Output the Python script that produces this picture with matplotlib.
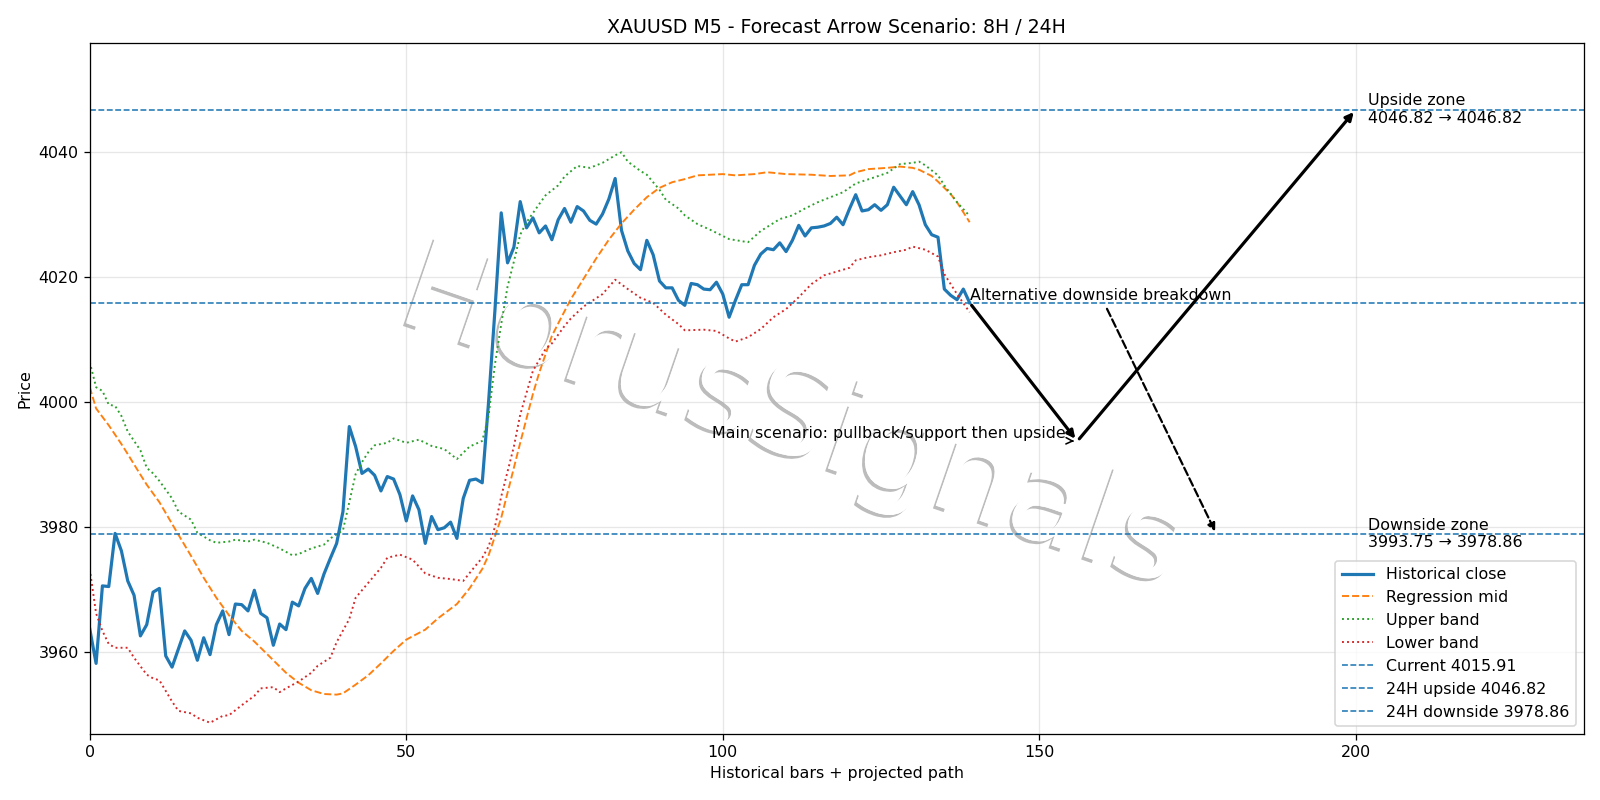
import matplotlib
matplotlib.use("Agg")
import matplotlib.pyplot as plt
import matplotlib.patheffects as pe
import numpy as np

# historical closes, one per bar (0..139)
close = [
    3963.7, 3958.2, 3970.6, 3970.5, 3979.0, 3976.2, 3971.4, 3969.1, 3962.6, 3964.4,
    3969.6, 3970.2, 3959.4, 3957.6, 3960.5, 3963.4, 3961.9, 3958.7, 3962.3, 3959.6,
    3964.4, 3966.6, 3962.8, 3967.7, 3967.6, 3966.6, 3969.9, 3966.2, 3965.5, 3961.1,
    3964.5, 3963.6, 3968.0, 3967.4, 3970.2, 3971.8, 3969.4, 3972.5, 3975.0, 3977.4,
    3982.5, 3996.1, 3992.9, 3988.6, 3989.3, 3988.3, 3985.8, 3988.1, 3987.7, 3985.2,
    3981.0, 3985.0, 3982.8, 3977.4, 3981.7, 3979.6, 3979.9, 3980.8, 3978.2, 3984.6,
    3987.5, 3987.7, 3987.1, 4000.0, 4014.6, 4030.3, 4022.3, 4024.8, 4032.1, 4027.9,
    4029.5, 4027.1, 4028.2, 4026.0, 4029.2, 4031.0, 4028.8, 4031.3, 4030.6, 4029.1,
    4028.5, 4030.1, 4032.5, 4035.8, 4027.5, 4024.2, 4022.2, 4021.2, 4025.9, 4023.6,
    4019.4, 4018.3, 4018.3, 4016.3, 4015.5, 4019.0, 4018.8, 4018.1, 4018.0, 4019.2,
    4017.3, 4013.6, 4016.3, 4018.8, 4018.8, 4021.9, 4023.7, 4024.6, 4024.4, 4025.5,
    4024.1, 4025.9, 4028.3, 4026.6, 4027.9, 4028.0, 4028.2, 4028.6, 4029.6, 4028.4,
    4030.9, 4033.2, 4030.6, 4030.8, 4031.6, 4030.7, 4031.6, 4034.4, 4033.0, 4031.6,
    4033.7, 4031.6, 4028.4, 4026.8, 4026.4, 4018.1, 4017.1, 4016.4, 4018.1, 4015.91,
]

# regression channel, read at selected bars
mid_x = [0, 1, 3, 5, 6, 8, 9, 11, 14, 16, 18, 20, 22, 24, 26, 29, 31, 33, 35, 37,
         39, 40, 42, 44, 46, 48, 50, 53, 55, 58, 60, 62, 63, 65, 66, 68, 70, 71, 73, 74,
         76, 77, 80, 82, 84, 86, 88, 90, 92, 94, 96, 100, 102, 105, 107, 110, 114, 117, 120, 121,
         123, 126, 128, 130, 131, 133, 134, 136, 137, 139]
mid_y = [4002.4, 3999.0, 3996.3, 3993.3, 3991.7, 3988.4, 3986.8, 3984.0, 3978.8, 3975.4,
         3971.9, 3968.7, 3965.9, 3963.4, 3961.7, 3958.7, 3956.7, 3955.1, 3953.9, 3953.3,
         3953.2, 3953.4, 3954.8, 3956.3, 3958.2, 3960.2, 3962.0, 3963.6, 3965.4, 3967.7,
         3970.2, 3973.3, 3975.5, 3981.5, 3985.5, 3993.5, 4001.3, 4004.7, 4010.6, 4012.6,
         4016.5, 4018.1, 4023.0, 4026.0, 4028.6, 4030.8, 4032.8, 4034.3, 4035.2, 4035.7,
         4036.3, 4036.5, 4036.3, 4036.5, 4036.8, 4036.5, 4036.4, 4036.2, 4036.3, 4036.8,
         4037.3, 4037.5, 4037.7, 4037.5, 4037.2, 4036.2, 4035.3, 4033.3, 4032.0, 4028.8]

upper_x = [0, 1, 2, 3, 4, 5, 6, 8, 9, 10, 11, 13, 14, 16, 17, 19, 20, 22, 23, 25,
           26, 28, 30, 32, 33, 35, 37, 38, 40, 41, 42, 43, 44, 45, 47, 48, 50, 52, 54, 56,
           58, 60, 62, 63, 64, 65, 66, 67, 68, 69, 71, 72, 74, 75, 77, 79, 81, 83, 84, 85,
           87, 88, 90, 91, 93, 94, 96, 98, 101, 104, 106, 109, 111, 113, 115, 117, 119, 121, 124, 126,
           128, 130, 131, 132, 134, 135, 137, 139]
upper_y = [4006.4, 4002.4, 4001.8, 3999.6, 3999.4, 3997.8, 3995.3, 3992.3, 3989.5, 3988.6,
           3987.4, 3984.6, 3982.5, 3981.2, 3979.1, 3977.9, 3977.5, 3977.7, 3978.0, 3977.7,
           3978.0, 3977.5, 3976.6, 3975.5, 3975.7, 3976.6, 3977.2, 3978.2, 3979.5, 3984.0,
           3988.5, 3990.4, 3992.0, 3993.1, 3993.5, 3994.2, 3993.5, 3994.0, 3993.0, 3992.5,
           3990.9, 3992.9, 3993.8, 3997.8, 4006.0, 4012.5, 4018.5, 4022.5, 4026.8, 4028.8,
           4031.7, 4033.1, 4034.7, 4036.1, 4037.8, 4037.5, 4038.3, 4039.5, 4040.0, 4038.5,
           4037.0, 4036.4, 4034.0, 4032.4, 4031.0, 4029.9, 4028.5, 4027.6, 4026.1, 4025.6,
           4027.4, 4029.3, 4029.9, 4031.0, 4032.0, 4032.8, 4033.6, 4035.0, 4036.0, 4036.7,
           4038.1, 4038.3, 4038.5, 4037.9, 4036.3, 4034.7, 4032.0, 4029.8]

lower_x = [0, 1, 2, 3, 4, 6, 7, 9, 10, 11, 13, 14, 16, 17, 19, 21, 22, 24, 26, 27,
           29, 30, 31, 33, 35, 36, 38, 39, 41, 42, 44, 46, 47, 49, 51, 53, 55, 57, 59, 61,
           62, 63, 64, 65, 67, 68, 70, 72, 73, 75, 76, 78, 81, 83, 85, 87, 89, 91, 93, 94,
           97, 99, 101, 102, 104, 106, 108, 110, 112, 114, 116, 118, 120, 121, 123, 125, 127, 129, 130, 132,
           134, 135, 137, 139]
lower_y = [3973.3, 3966.2, 3963.4, 3961.3, 3960.7, 3960.7, 3959.1, 3956.4, 3955.8, 3955.5,
           3952.1, 3950.6, 3950.2, 3949.5, 3948.7, 3949.8, 3949.9, 3951.5, 3953.0, 3954.2,
           3954.4, 3953.6, 3954.2, 3955.3, 3956.7, 3957.8, 3959.1, 3961.6, 3965.3, 3968.7,
           3971.1, 3973.5, 3975.1, 3975.6, 3974.8, 3972.6, 3971.9, 3971.7, 3971.4, 3973.9,
           3975.1, 3976.9, 3980.0, 3984.9, 3992.9, 3998.0, 4005.0, 4008.5, 4009.4, 4012.2,
           4013.4, 4015.3, 4017.3, 4019.6, 4018.1, 4016.7, 4015.9, 4014.0, 4012.5, 4011.5,
           4011.6, 4011.4, 4010.2, 4009.7, 4010.4, 4011.7, 4013.6, 4014.9, 4016.8, 4018.9,
           4020.3, 4020.9, 4021.5, 4022.7, 4023.2, 4023.5, 4024.0, 4024.4, 4024.9, 4024.4,
           4023.3, 4020.5, 4017.3, 4014.4]

current = 4015.91
up_24h = 4046.82
dn_24h = 3978.86
pullback = 3993.75

n = len(close)
last_x = n - 1
pull_x = 156
target_x = 200
alt_x = 178

fig = plt.figure(figsize=(14, 7), dpi=1600 / 14)
ax = fig.add_axes([0.0561, 0.0825, 0.9337, 0.8639])

ax.text(0.47, 0.455, "HorusSignals", transform=ax.transAxes, fontsize=79,
        rotation=-19, ha="center", va="center", color="white", zorder=1,
        path_effects=[pe.withSimplePatchShadow(offset=(-1.8, -1.8), shadow_rgbFace="#bcbcbc", alpha=1.0),
                      pe.Normal()])

ax.plot(np.arange(n), close, color="C0", lw=2, label="Historical close")
ax.plot(mid_x, mid_y, "--", color="C1", lw=1.2, label="Regression mid")
ax.plot(upper_x, upper_y, ":", color="C2", lw=1.2, label="Upper band")
ax.plot(lower_x, lower_y, ":", color="C3", lw=1.2, label="Lower band")

ax.axhline(current, ls="--", lw=1, color="C0", label=f"Current {current:.2f}")
ax.axhline(up_24h, ls="--", lw=1, color="C0", label=f"24H upside {up_24h:.2f}")
ax.axhline(dn_24h, ls="--", lw=1, color="C0", label=f"24H downside {dn_24h:.2f}")

# main scenario: pullback then upside
ax.annotate("", xy=(pull_x, pullback), xytext=(last_x, current),
            arrowprops=dict(arrowstyle="-|>", lw=2, color="black"))
ax.annotate("", xy=(target_x, up_24h), xytext=(pull_x, pullback),
            arrowprops=dict(arrowstyle="-|>", lw=2, color="black"))
ax.annotate("Main scenario: pullback/support then upside", xy=(pull_x, pullback),
            xytext=(-7, 0), textcoords="offset points", ha="right", va="bottom",
            arrowprops=dict(arrowstyle="->", lw=1, color="black"))

# alternative
ax.annotate("Alternative downside breakdown", xy=(alt_x, dn_24h), xytext=(last_x, current),
            ha="left", va="bottom",
            arrowprops=dict(arrowstyle="-|>", lw=1.4, ls="--", color="black"))

ax.text(target_x + 2, up_24h, f"Upside zone\n{up_24h:.2f} \u2192 {up_24h:.2f}", ha="left", va="center")
ax.text(target_x + 2, dn_24h, f"Downside zone\n{pullback:.2f} \u2192 {dn_24h:.2f}", ha="left", va="center")

ax.set_xlim(0, n + 96)
ax.set_ylim(3946.9, 4057.5)
ax.grid(True, alpha=0.3)
ax.set_title("XAUUSD M5 - Forecast Arrow Scenario: 8H / 24H")
ax.set_xlabel("Historical bars + projected path")
ax.set_ylabel("Price")
ax.legend(loc="lower right")

fig.savefig("out.png", dpi=1600 / 14)
